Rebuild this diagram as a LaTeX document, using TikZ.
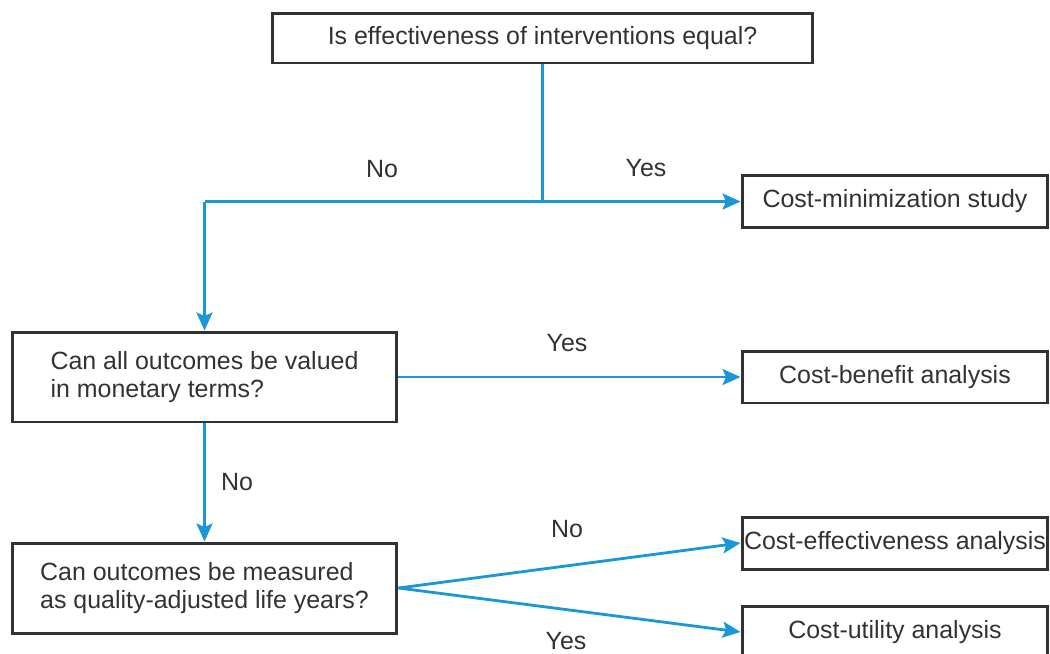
\documentclass[tikz,border=0pt]{standalone}
\usepackage{fontspec}
\setmainfont{Liberation Sans}
\usetikzlibrary{arrows.meta}

\definecolor{flowblue}{RGB}{27,150,214}
\definecolor{inkgray}{RGB}{50,50,50}

\begin{document}
\begin{tikzpicture}[x=0.02cm, y=-0.02cm,
    box/.style={draw=inkgray, line width=1.7pt, text=inkgray, inner sep=0pt,
        font=\fontsize{14.2pt}{15.9pt}\selectfont},
    smallbox/.style={box, minimum width=6.12cm, minimum height=1.04cm},
    bigbox/.style={box, align=left, minimum width=7.7cm, minimum height=1.8cm},
    link/.style={draw=flowblue, line width=1.6pt},
    arrow/.style={link, -{Stealth[length=0.36cm, width=0.32cm, inset=0.07cm]}},
    answer/.style={text=inkgray, font=\fontsize{14.2pt}{15.9pt}\selectfont}]

    % --- Page frame (reference size 1050 x 653) ---
    \useasboundingbox (0,0) rectangle (1050,653);
    \clip (0,0) rectangle (1050,653);

    % --- Question boxes ---
    \node[box, minimum width=10.82cm, minimum height=1.0cm] (equal) at (542.5,38)
        {Is effectiveness of interventions equal?};
    \node[bigbox] (monetary) at (204.5,377)
        {Can all outcomes be valued\\in monetary terms?};
    \node[bigbox] (qaly) at (204.5,588)
        {Can outcomes be measured\\as quality-adjusted life years?};

    % --- Result boxes ---
    \node[smallbox] (costmin) at (895,201.5) {Cost-minimization study};
    \node[smallbox] (costben) at (895,377) {Cost-benefit analysis};
    \node[smallbox] (costeff) at (895,543) {Cost-effectiveness analysis};
    \node[smallbox] (costutil) at (895,632) {Cost-utility analysis};

    % --- Branch below the first question ---
    \coordinate (split) at (equal.south |- costmin.west);
    \coordinate (turn) at (monetary.north |- costmin.west);
    \draw[link] (equal.south) -- (split);
    \draw[arrow] (turn) -- (costmin.west);
    \draw[arrow] (turn) -- (monetary.north);

    % --- Second and third questions ---
    \draw[arrow] (monetary.east) -- (costben.west);
    \draw[arrow] (monetary.south) -- (qaly.north);
    \draw[arrow] (qaly.east) -- (costeff.west);
    \draw[arrow] (qaly.east) -- (costutil.west);

    % --- Answer labels ---
    \node[answer] (no1) at (382,169) {No};
    \node[answer] (yes1) at (646,168) {Yes};
    \node[answer] (yes2) at (567,343) {Yes};
    \node[answer] (no2) at (237,482) {No};
    \node[answer] (no3) at (567,529) {No};
    \node[answer] (yes3) at (566,641) {Yes};

\end{tikzpicture}
\end{document}
